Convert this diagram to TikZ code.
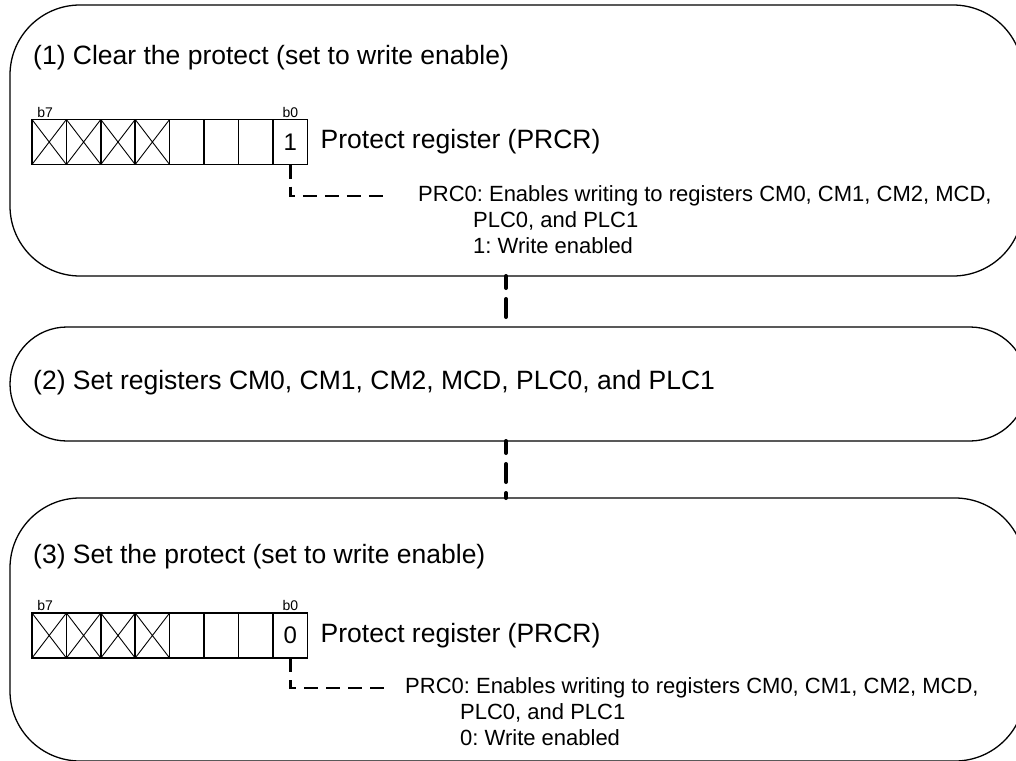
\documentclass[tikz,border=0pt]{standalone}
\usepackage{fontspec}
\setmainfont{Liberation Sans}
\tikzset{>=stealth}
\usetikzlibrary{positioning, calc}
\tikzset{
  stage/.style={draw, line width=1.3pt, rounded corners=70pt, inner sep=0pt, outer sep=0pt},
  cell/.style={draw, line width=1.5pt, minimum width=34.4pt, minimum height=45pt, inner sep=0pt, outer sep=0pt, font=\fontsize{24}{28}\selectfont},
  bitlabel/.style={font=\fontsize{14}{16}\selectfont, inner sep=1pt},
  heading/.style={anchor=west, inner sep=0pt, font=\fontsize{26.5}{31}\selectfont},
  note/.style={anchor=west, inner sep=0pt, font=\fontsize{22}{25}\selectfont},
  spine/.style={line width=4pt, dash pattern=on 18pt off 11pt, dash phase=6pt, line cap=round},
  leader/.style={line width=2.5pt, dash pattern=on 14pt off 8pt}
}

\begin{document}
\frenchspacing
\begin{tikzpicture}[x=1pt, y=-1pt]
    \useasboundingbox (0,0) rectangle (1016,760);
    % the three steps
    \node [stage, minimum width=1013pt, minimum height=271pt] (stage1) at (516.5,140.5) {};
    \node [stage, rounded corners=57pt, minimum width=1017pt, minimum height=114pt] (stage2) at (518.5,384) {};
    \node [stage, minimum width=1015pt, minimum height=263pt] (stage3) at (517.5,629.5) {};
    \coordinate (spine) at (506,0);
    \draw [spine] (stage1.south -| spine) -- (stage2.north -| spine);
    \draw [spine] (stage2.south -| spine) -- (stage3.north -| spine);

    % step 1
    \node [heading] (head1) at (33,58) {(1) Clear the protect (set to write enable)};
    \foreach \b in {1,...,7}
        \node [cell] (ra\b) at ({32+(7-\b)*34.4+17.2},142) {};
    \node [cell] (ra0) at (290.3,142) {1};
    \foreach \b in {4,...,7}
        \draw [line width=0.9pt] (ra\b.north west) -- (ra\b.south east) (ra\b.north east) -- (ra\b.south west);
    \node [bitlabel, above=1pt of ra7, xshift=-4pt] (b7a) {b7};
    \node [bitlabel, above=1pt of ra0] (b0a) {b0};
    \node [heading, right=13pt of ra0] (prcra) {Protect register (PRCR)};
    \node [note] (prca) at (418,196) {PRC0: Enables writing to registers CM0, CM1, CM2, MCD,};
    \node [note] (plca) at (473,221) {PLC0, and PLC1};
    \node [note] (wra) at (473,246) {1: Write enabled};
    \draw [leader] (ra0.south) |- ([xshift=-30pt]prca.west);

    % step 2
    \node [heading] (head2) at (33,383) {(2) Set registers CM0, CM1, CM2, MCD, PLC0, and PLC1};

    % step 3
    \node [heading] (head3) at (33,557) {(3) Set the protect (set to write enable)};
    \foreach \b in {1,...,7}
        \node [cell] (rb\b) at ({32+(7-\b)*34.4+17.2},635.5) {};
    \node [cell] (rb0) at (290.3,635.5) {0};
    \foreach \b in {4,...,7}
        \draw [line width=0.9pt] (rb\b.north west) -- (rb\b.south east) (rb\b.north east) -- (rb\b.south west);
    \node [bitlabel, above=1pt of rb7, xshift=-4pt] (b7b) {b7};
    \node [bitlabel, above=1pt of rb0] (b0b) {b0};
    \node [heading, right=13pt of rb0] (prcrb) {Protect register (PRCR)};
    \node [note] (prcb) at (405,688) {PRC0: Enables writing to registers CM0, CM1, CM2, MCD,};
    \node [note] (plcb) at (460,713) {PLC0, and PLC1};
    \node [note] (wrb) at (460,738) {0: Write enabled};
    \draw [leader] (rb0.south) |- ([xshift=-18pt]prcb.west);
\end{tikzpicture}
\end{document}
